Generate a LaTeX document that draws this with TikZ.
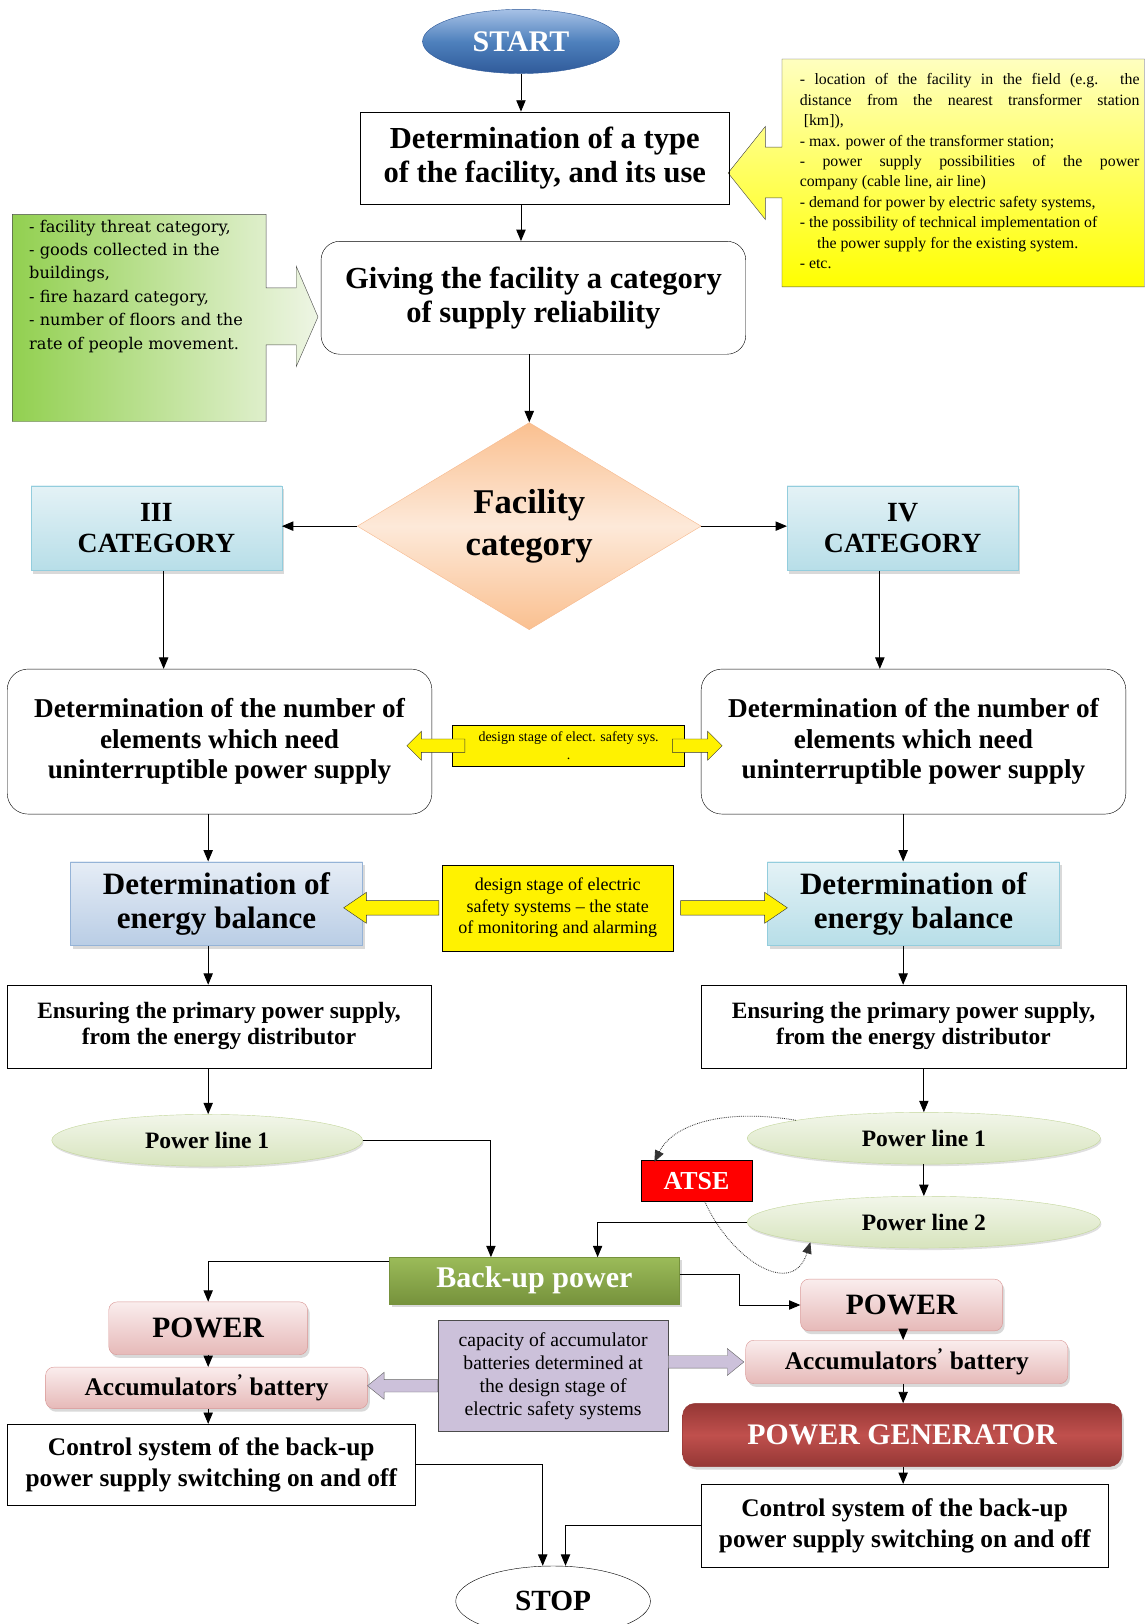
\documentclass[tikz,border=0pt]{standalone}
\usepackage{fontspec}
\setmainfont{Liberation Serif}
\newfontfamily\calloutfont{DejaVu Serif}
\usetikzlibrary{shapes.geometric,shadows,arrows.meta}

\definecolor{startlight}{HTML}{A7C1E6}
\definecolor{startmid}{HTML}{4F81BD}
\definecolor{startdark}{HTML}{2F5A9A}
\definecolor{peachdark}{HTML}{FAC090}
\definecolor{peachlight}{HTML}{FDE9D9}
\definecolor{peachline}{HTML}{F7B98E}
\definecolor{catdark}{HTML}{B7DEE8}
\definecolor{catlight}{HTML}{E4F2F6}
\definecolor{catline}{HTML}{93CDDD}
\definecolor{baldark}{HTML}{B9CDE5}
\definecolor{ballight}{HTML}{E6EDF6}
\definecolor{balline}{HTML}{95B3D7}
\definecolor{pldark}{HTML}{D7E4BD}
\definecolor{pllight}{HTML}{F2F6EA}
\definecolor{plline}{HTML}{C3D69B}
\definecolor{backdark}{HTML}{76923C}
\definecolor{backlight}{HTML}{9BBB59}
\definecolor{powdark}{HTML}{E6B9B8}
\definecolor{powlight}{HTML}{FAEDED}
\definecolor{powline}{HTML}{D99694}
\definecolor{gendark}{HTML}{953735}
\definecolor{genlight}{HTML}{C0504D}
\definecolor{capfill}{HTML}{CCC1DA}
\definecolor{greenleft}{HTML}{92D050}
\definecolor{greenright}{HTML}{EEF5E4}

\begin{document}
\begin{tikzpicture}[x=1pt,y=-1pt,
  box/.style={draw, inner sep=0pt, align=center, font=\bfseries\fontsize{29.5}{33}\selectfont},
  catbox/.style={box, draw=catline, top color=catlight, bottom color=catdark, shade, font=\bfseries\fontsize{26.8}{30}\selectfont},
  powbox/.style={box, draw=powline, rounded corners=8pt, top color=powlight, bottom color=powdark, shade},
  lineell/.style={ellipse, draw=plline, top color=pllight, bottom color=pldark, inner sep=0pt,
    minimum height=50, font=\bfseries\fontsize{22.7}{25}\selectfont, drop shadow={shadow xshift=1pt,shadow yshift=-2pt,opacity=0.25}},
  shade/.style={drop shadow={shadow xshift=2pt,shadow yshift=-3pt,opacity=0.3}},
  link/.style={-{Triangle[length=11pt,width=9pt]}, line width=0.9pt},
  dotlink/.style={densely dotted, -{Triangle[length=11pt,width=9pt]}, line width=0.8pt, black!80},
  pics/blockarr/.style n args={4}{code={
    \filldraw (0,-#2/2) -- ({#1-#4},-#2/2) -- ({#1-#4},-#3/2) -- (#1,0) -- ({#1-#4},#3/2) -- ({#1-#4},#2/2) -- (0,#2/2) -- cycle;}}]

\useasboundingbox (0,0) rectangle (1105,1568);
\coordinate (lcol) at (201,0);
\coordinate (rcol) at (872,0);

% callouts with the input data
\path[draw=black!70, left color=greenleft, right color=greenright]
  (12,207) -- (257,207) -- (257,278) -- (286,278) -- (286,257) -- (307,306) -- (286,354)
  -- (286,333) -- (257,333) -- (257,407) -- (12,407) -- cycle;
\node (threat) [anchor=north west, align=left, inner sep=0pt, font=\calloutfont\fontsize{15.6}{22.6}\selectfont] at (28,212)
  {- facility threat category,\\- goods collected in the\\buildings,\\- fire hazard category,\\- number of floors and the\\rate of people movement.};
\path[draw=black!70, top color=yellow!25, bottom color=yellow]
  (755,57) -- (1105,57) -- (1105,277) -- (755,277) -- (755,191) -- (739,191) -- (739,212)
  -- (703,167) -- (739,122) -- (739,142) -- (755,142) -- cycle;
\node (supply) [anchor=north west, align=left, inner sep=0pt, font=\fontsize{15.3}{19.7}\selectfont] at (772,71)
  {\makebox[328pt][s]{- location of the facility in the field (e.g. the}\\
   \makebox[328pt][s]{distance from the nearest transformer station}\\{}
   [km]),\\
   - max. power of the transformer station;\\
   \makebox[328pt][s]{- power supply possibilities of the power}\\
   company (cable line, air line)\\
   - demand for power by electric safety systems,\\
   - the possibility of technical implementation of\\
   \hspace*{1.1em}the power supply for the existing system.\\
   - etc.};

% main path
\node (start) [ellipse, draw=startdark, top color=startlight, bottom color=startdark, middle color=startmid,
  minimum width=190, minimum height=62, inner sep=0pt, text=white, font=\bfseries\fontsize{28.9}{30}\selectfont] at (503,40) {START};
\node (type) [box, minimum width=356, minimum height=89] at (526,152.5) {Determination of a type\\of the facility, and its use};
\node (giving) [box, rounded corners=18pt, minimum width=410, minimum height=109] at (515,287.5) {Giving the facility a category\\of supply reliability};
\node (fcat) [diamond, aspect=1.66, minimum width=332, minimum height=200, inner sep=0pt, draw=peachline,
  top color=peachdark, bottom color=peachdark, middle color=peachlight, align=center,
  font=\bfseries\fontsize{33.5}{40}\selectfont] at (511,508) {Facility\\category};
\node (cat3) [catbox, minimum width=242, minimum height=82] at (151,510) {III\\CATEGORY};
\node (cat4) [catbox, minimum width=223, minimum height=82] at (871.5,510) {IV\\CATEGORY};

% number of elements
\node (num3) [box, rounded corners=20pt, minimum width=410, minimum height=140, font=\bfseries\fontsize{26.3}{29.2}\selectfont] at (212,716)
  {Determination of the number of\\elements which need\\uninterruptible power supply};
\node (num4) [box, rounded corners=20pt, minimum width=410, minimum height=140, font=\bfseries\fontsize{26.3}{29.2}\selectfont] at (882,716)
  {Determination of the number of\\elements which need\\uninterruptible power supply};
\node (stage1) [box, fill=yellow, minimum width=224, minimum height=40, font=\fontsize{13.5}{17}\selectfont] at (549,720)
  {design stage of elect. safety sys.\\.};
\pic[fill=yellow, draw=black!80, rotate=180] at ([xshift=12pt]stage1.west) {blockarr={56}{13}{28}{14}};
\pic[fill=yellow, draw=black!80] at ([xshift=-12pt]stage1.east) {blockarr={48}{13}{28}{14}};

% energy balance
\node (bal3) [box, draw=balline, top color=ballight, bottom color=baldark, shade, minimum width=282, minimum height=81,
  font=\bfseries\fontsize{30}{33}\selectfont] at (209,872.5) {Determination of\\energy balance};
\node (bal4) [box, draw=catline, top color=catlight, bottom color=catdark, shade, minimum width=282, minimum height=81,
  font=\bfseries\fontsize{30}{33}\selectfont] at (882,872.5) {Determination of\\energy balance};
\node (stage2) [box, fill=yellow, minimum width=223, minimum height=83, font=\fontsize{17.4}{20.5}\selectfont] at (538.5,876.5)
  {design stage of electric\\safety systems -- the state\\of monitoring and alarming};
\pic[fill=yellow, draw=black!80, rotate=180] at ([xshift=-3pt]stage2.west) {blockarr={92}{14}{30}{22}};
\pic[fill=yellow, draw=black!80] at ([xshift=7pt]stage2.east) {blockarr={103}{14}{30}{22}};

% primary supply
\node (ens3) [box, minimum width=409, minimum height=80, font=\bfseries\fontsize{22.6}{25}\selectfont] at (211.5,991)
  {Ensuring the primary power supply,\\from the energy distributor};
\node (ens4) [box, minimum width=410, minimum height=80, font=\bfseries\fontsize{22.6}{25}\selectfont] at (882,991)
  {Ensuring the primary power supply,\\from the energy distributor};
\node (pl3) [lineell, minimum width=300] at (200,1101) {Power line 1};
\node (pl41) [lineell, minimum width=341] at (892,1099) {Power line 1};
\node (pl42) [lineell, minimum width=341] at (892,1180) {Power line 2};
\node (atse) [box, fill=red, text=white, minimum width=107, minimum height=40, font=\bfseries\fontsize{25}{25}\selectfont] at (672.5,1140) {ATSE};

% back-up power
\node (backup) [box, draw=backdark, top color=backlight, bottom color=backdark, shade, text=white,
  minimum width=280, minimum height=45, font=\bfseries\fontsize{29}{30}\selectfont] at (516,1236.5) {Back-up power};
\node (pow3) [powbox, minimum width=192, minimum height=51, font=\bfseries\fontsize{28.5}{30}\selectfont] at (201,1282.5) {POWER};
\node (acc3) [powbox, minimum width=311, minimum height=40, font=\bfseries\fontsize{24.5}{26}\selectfont] at (199.5,1340)
  {Accumulators\textsuperscript{’} battery};
\node (ctl3) [box, minimum width=394, minimum height=78, font=\bfseries\fontsize{24.5}{30}\selectfont] at (204,1414)
  {Control system of the back-up\\power supply switching on and off};
\node (capacity) [box, draw=black!70, fill=capfill, minimum width=222, minimum height=107, font=\fontsize{19}{22.3}\selectfont] at (534,1328.5)
  {capacity of accumulator\\batteries determined at\\the design stage of\\electric safety systems};
\pic[fill=capfill, draw=black!60, rotate=180] at ([yshift=-9.5pt]capacity.west) {blockarr={68}{12}{26}{16}};
\pic[fill=capfill, draw=black!60] at ([yshift=13.5pt]capacity.east) {blockarr={73}{12}{26}{16}};
\node (pow4) [powbox, minimum width=195, minimum height=50, font=\bfseries\fontsize{28.5}{30}\selectfont] at (870.5,1260) {POWER};
\node (acc4) [powbox, minimum width=311, minimum height=42, font=\bfseries\fontsize{24.5}{26}\selectfont] at (875.5,1315)
  {Accumulators\textsuperscript{’} battery};
\node (gen) [box, draw=gendark, rounded corners=12pt, top color=gendark, bottom color=gendark, middle color=genlight, shade,
  text=white, minimum width=424, minimum height=61, font=\bfseries\fontsize{28.8}{30}\selectfont] at (871,1385.5) {POWER GENERATOR};
\node (ctl4) [box, minimum width=393, minimum height=80, font=\bfseries\fontsize{24.5}{30}\selectfont] at (873.5,1473)
  {Control system of the back-up\\power supply switching on and off};
\node (stop) [ellipse, draw, minimum width=188, minimum height=68, inner sep=0pt, font=\bfseries\fontsize{28.3}{30}\selectfont] at (534,1546) {STOP};

% connectors
\draw[link] (start) -- (start |- type.north);
\draw[link] (type.south -| start) -- (giving.north -| start);
\draw[link] (giving.south -| fcat) -- (fcat.north);
\draw[link] (fcat.west) -- (cat3.east |- fcat.west);
\draw[link] (fcat.east) -- (cat4.west |- fcat.east);
\draw[link] ([xshift=7pt]cat3.south) -- ([xshift=7pt]cat3.south |- num3.north);
\draw[link] ([xshift=-22pt]cat4.south) -- ([xshift=-22pt]cat4.south |- num4.north);
\draw[link] (num3.south -| lcol) -- (bal3.north -| lcol);
\draw[link] (num4.south -| rcol) -- (bal4.north -| rcol);
\draw[link] (bal3.south -| lcol) -- (ens3.north -| lcol);
\draw[link] (bal4.south -| rcol) -- (ens4.north -| rcol);
\draw[link] (ens3.south -| lcol) -- (pl3.north -| lcol);
\draw[link] (ens4.south -| pl41) -- (pl41.north);
\draw[link] (pl41) -- (pl42);
\draw[link] (pl3.east) -| ([xshift=-42pt]backup.north);
\draw[link] (pl42.west) -| ([xshift=61pt]backup.north);
\draw[dotlink] (pl41.172) .. controls (700,1070) and (650,1085) .. ([xshift=13pt,yshift=-2pt]atse.north west);
\draw[dotlink] ([xshift=8pt]atse.south) .. controls (705,1215) and (765,1255) .. (pl42.190);
\draw[link] ([yshift=19pt]backup.west) -| (pow3.north);
\draw[link] ([yshift=6pt]backup.east) -- ++(58,0) |- (pow4.west);
\draw[link] (pow3.south -| lcol) -- (acc3.north -| lcol);
\draw[link] (acc3.south -| lcol) -- (ctl3.north -| lcol);
\draw[link] (pow4.south -| rcol) -- (acc4.north -| rcol);
\draw[link] (acc4.south -| rcol) -- (gen.north -| rcol);
\draw[link] (gen.south -| rcol) -- (ctl4.north -| rcol);
\draw[link] (ctl3.east) -| ([xshift=-10pt]stop.north);
\draw[link] (ctl4.west) -| ([xshift=12pt]stop.north);

\end{tikzpicture}
\end{document}
